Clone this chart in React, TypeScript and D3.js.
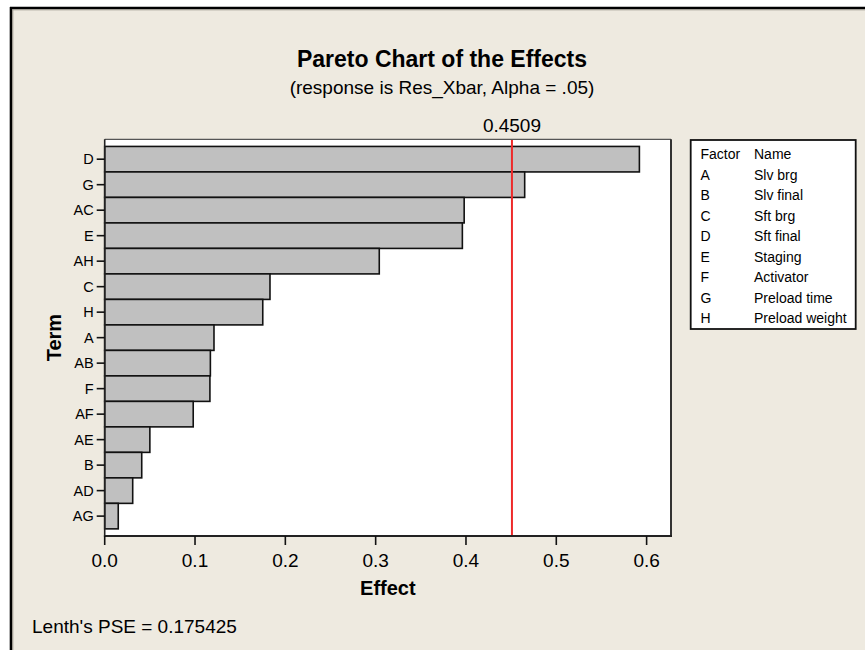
import React from "react";
import * as d3 from "d3";

// Pareto chart of standardized effects (Minitab-style)
const terms = ["D", "G", "AC", "E", "AH", "C", "H", "A", "AB", "F", "AF", "AE", "B", "AD", "AG"];
const effects = [0.592, 0.465, 0.398, 0.396, 0.304, 0.183, 0.175, 0.121, 0.117, 0.1165, 0.098, 0.05, 0.041, 0.031, 0.015];
const factorCodes = ["A", "B", "C", "D", "E", "F", "G", "H"];
const factorNames = ["Slv brg", "Slv final", "Sft brg", "Sft final", "Staging", "Activator", "Preload time", "Preload weight"];
const xTicks = [0, 0.1, 0.2, 0.3, 0.4, 0.5, 0.6];
const threshold = 0.4509;
const lenthPSE = 0.175425;

const W = 865;
const H = 650;
const plot = { left: 104.7, top: 139.3, right: 671, bottom: 536 };
const FONT = "'Liberation Sans', Arial, sans-serif";

export default function App() {
  const x = d3
    .scaleLinear()
    .domain([0, 0.627])
    .range([plot.left, plot.right]);
  const y = d3
    .scaleBand<string>()
    .domain(terms)
    .range([plot.top, plot.bottom])
    .paddingInner(0)
    .paddingOuter(0.28);

  const legend = { left: 690.7, top: 140, right: 855.7, bottom: 329 };
  const rowStep = 20.5;

  return (
    <svg
      width={W}
      height={H}
      style={{ position: "absolute", left: 0, top: 0, display: "block" }}
      fontFamily={FONT}
    >
      {/* page background and graph window frame */}
      <rect x={0} y={0} width={W} height={H} fill="#ffffff" />
      <rect x={10} y={7} width={W + 20} height={H + 20} fill="#EEEAE0" />
      <line x1={10} y1={8} x2={W} y2={8} stroke="#000" strokeWidth={2.6} />
      <line x1={11} y1={7} x2={11} y2={H} stroke="#000" strokeWidth={2.6} />
      <line x1={12.3} y1={9.8} x2={W} y2={9.8} stroke="#9a968c" strokeWidth={1} />
      <line x1={12.8} y1={9.8} x2={12.8} y2={H} stroke="#9a968c" strokeWidth={1} />

      {/* titles */}
      <text x={442} y={67} textAnchor="middle" fontSize={23} fontWeight="bold" fill="#000">
        Pareto Chart of the Effects
      </text>
      <text x={442} y={94} textAnchor="middle" fontSize={19} fill="#000">
        (response is Res_Xbar, Alpha = .05)
      </text>

      {/* plot area */}
      <rect
        x={plot.left}
        y={plot.top}
        width={plot.right - plot.left}
        height={plot.bottom - plot.top}
        fill="#ffffff"
      />

      {/* bars */}
      {terms.map((t, i) => (
        <rect
          key={t}
          x={x(0)}
          y={y(t)!}
          width={x(effects[i]) - x(0)}
          height={y.bandwidth()}
          fill="#C0C0C0"
          stroke="#111"
          strokeWidth={1.6}
        />
      ))}

      {/* reference line */}
      <line
        x1={x(threshold)}
        x2={x(threshold)}
        y1={plot.top}
        y2={plot.bottom}
        stroke="#ee2a2a"
        strokeWidth={2}
      />
      <text x={x(threshold)} y={132} textAnchor="middle" fontSize={19} fill="#000">
        {threshold.toFixed(4)}
      </text>

      {/* plot frame */}
      <line x1={plot.left} y1={plot.top} x2={plot.right} y2={plot.top} stroke="#555" strokeWidth={1.2} />
      <line x1={plot.right} y1={plot.top} x2={plot.right} y2={plot.bottom} stroke="#333" strokeWidth={2} />
      <line x1={plot.left} y1={plot.top} x2={plot.left} y2={plot.bottom} stroke="#222" strokeWidth={1.6} />
      <line x1={plot.left - 0.8} y1={plot.bottom} x2={plot.right + 1} y2={plot.bottom} stroke="#222" strokeWidth={2} />

      {/* y axis ticks and labels */}
      {terms.map((t) => {
        const cy = y(t)! + y.bandwidth() / 2;
        return (
          <g key={"yt" + t}>
            <line x1={plot.left - 8} x2={plot.left} y1={cy} y2={cy} stroke="#111" strokeWidth={1.6} />
            <text x={plot.left - 11} y={cy + 5.3} textAnchor="end" fontSize={14.5} fill="#000">
              {t}
            </text>
          </g>
        );
      })}

      {/* x axis ticks and labels */}
      {xTicks.map((v) => (
        <g key={"xt" + v}>
          <line x1={x(v)} x2={x(v)} y1={plot.bottom} y2={plot.bottom + 9} stroke="#111" strokeWidth={1.6} />
          <text x={x(v)} y={567} textAnchor="middle" fontSize={19} fill="#000">
            {d3.format(".1f")(v)}
          </text>
        </g>
      ))}

      {/* axis titles */}
      <text x={(plot.left + plot.right) / 2} y={595} textAnchor="middle" fontSize={20} fontWeight="bold" fill="#000">
        Effect
      </text>
      <text
        transform={`translate(61,${(plot.top + plot.bottom) / 2}) rotate(-90)`}
        textAnchor="middle"
        fontSize={20}
        fontWeight="bold"
        fill="#000"
      >
        Term
      </text>

      {/* footnote */}
      <text x={32} y={633} fontSize={19} fill="#000">
        {`Lenth's PSE = ${lenthPSE}`}
      </text>

      {/* factor legend */}
      <rect
        x={legend.left}
        y={legend.top}
        width={legend.right - legend.left}
        height={legend.bottom - legend.top}
        fill="#ffffff"
        stroke="#111"
        strokeWidth={1.8}
      />
      <text x={700.5} y={159} fontSize={14} fill="#000">Factor</text>
      <text x={754} y={159} fontSize={14} fill="#000">Name</text>
      {factorCodes.map((c, i) => (
        <g key={"lg" + c}>
          <text x={700.5} y={159 + (i + 1) * rowStep} fontSize={14} fill="#000">{c}</text>
          <text x={754} y={159 + (i + 1) * rowStep} fontSize={14} fill="#000">{factorNames[i]}</text>
        </g>
      ))}
    </svg>
  );
}
